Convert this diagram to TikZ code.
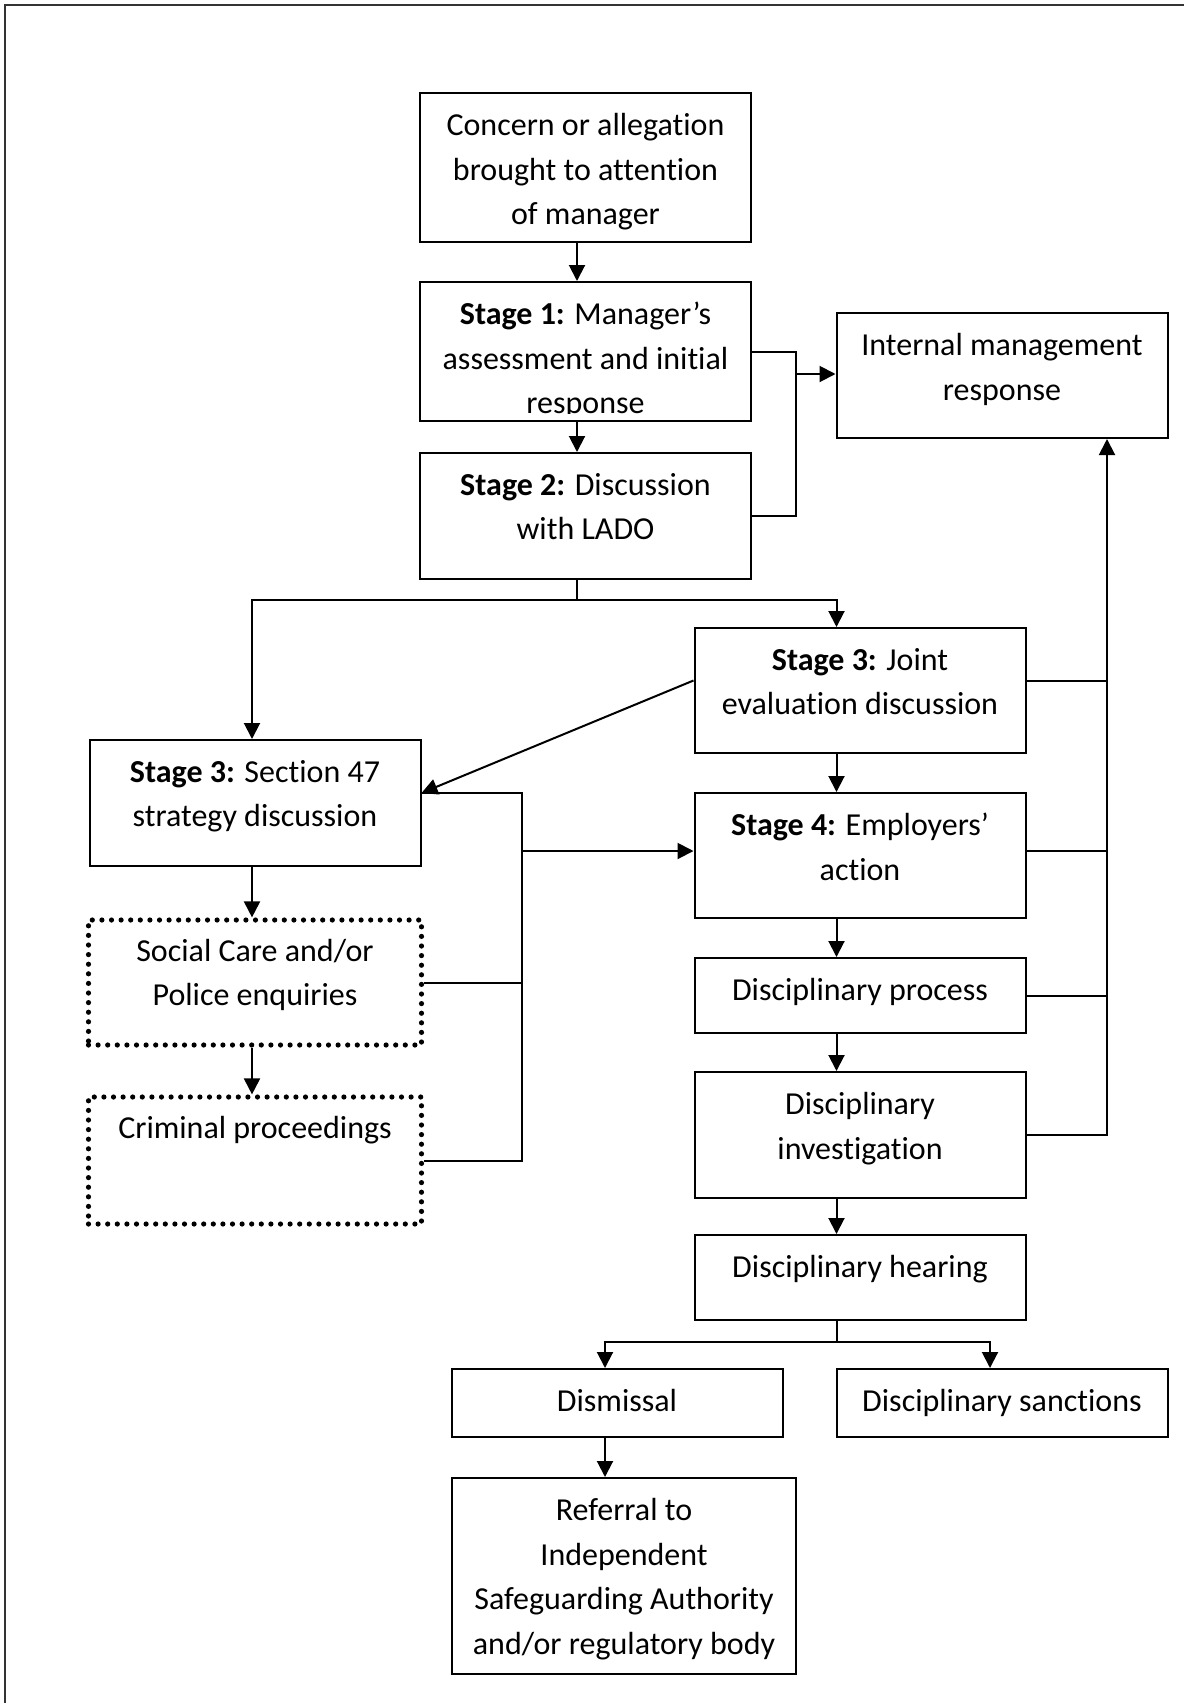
\documentclass[tikz,border=0pt]{standalone}
\usepackage{fontspec}
\setmainfont[Ligatures=NoCommon]{Carlito}
\usetikzlibrary{arrows.meta}
\tikzset{
    box/.style = {draw, line width=1pt, minimum width=165.5pt, inner sep=0pt},
    dotbox/.style = {box, minimum width=166.5pt, line width=2.6pt, line cap=round, dash pattern=on 0pt off 4.8pt},
    txt/.style = {anchor=north, align=center, inner sep=0pt, font=\fontsize{16}{22.25}\selectfont},
    link/.style = {line width=1pt},
    arr/.style = {link, -{Triangle[length=8pt,width=8pt]}}
}
\begin{document}
\begin{tikzpicture}[x=0.5pt, y=-0.5pt]
        \useasboundingbox (0,0) rectangle (1184,1703);
        \draw[line width=1.3pt, black!80] (5,1703) -- (5,5) -- (1184,5);

        \node[box, minimum height=74.5pt] (concern) at (585.5,167.5) {};
        \node[box, minimum height=69.5pt] (stage1) at (585.5,351.5) {};
        \node[box, minimum height=63pt] (stage2) at (585.5,516) {};
        \node[box, minimum height=62.5pt] (internal) at (1002,375.5) {};
        \node[box, minimum height=62.5pt] (joint) at (860,690.5) {};
        \node[box, minimum height=63pt] (sec47) at (255,803) {};
        \node[box, minimum height=62.5pt] (stage4) at (860,855.5) {};
        \node[dotbox, minimum height=62.5pt] (social) at (255,982.5) {};
        \node[dotbox, minimum height=63.5pt] (criminal) at (255,1160.5) {};
        \node[box, minimum height=37.5pt] (process) at (860,995.5) {};
        \node[box, minimum height=63pt] (investig) at (860,1135) {};
        \node[box, minimum height=42.5pt] (hearing) at (860,1277.5) {};
        \node[box, minimum height=34pt] (dismissal) at (617,1403) {};
        \node[box, minimum height=34pt] (sanctions) at (1002,1403) {};
        \node[box, minimum height=98pt, minimum width=172pt] (referral) at (624,1576) {};

        \node[txt] (concern-t) at ([yshift=-10.5pt]concern.north) {Concern or allegation\\brought to attention\\of manager};
        \begin{scope}
            \clip (stage1.north west) rectangle ([yshift=4.5pt]stage1.south east);
            \node[txt] (stage1-t) at ([yshift=-10.5pt]stage1.north) {\textbf{Stage 1:} Manager’s\\assessment and initial\\response};
        \end{scope}
        \node[txt] (stage2-t) at ([yshift=-10.5pt]stage2.north) {\textbf{Stage 2:} Discussion\\with LADO};
        \node[txt] (internal-t) at ([yshift=-10.5pt]internal.north) {Internal management\\response};
        \node[txt] (joint-t) at ([yshift=-10.5pt]joint.north) {\textbf{Stage 3:} Joint\\evaluation discussion};
        \node[txt] (sec47-t) at ([yshift=-10.5pt]sec47.north) {\textbf{Stage 3:} Section 47\\strategy discussion};
        \node[txt] (stage4-t) at ([yshift=-10.5pt]stage4.north) {\textbf{Stage 4:} Employers’\\action};
        \node[txt] (social-t) at ([yshift=-10.5pt]social.north) {Social Care and/or\\Police enquiries};
        \node[txt] (criminal-t) at ([yshift=-10.5pt]criminal.north) {Criminal proceedings};
        \node[txt] (process-t) at ([yshift=-10.5pt]process.north) {Disciplinary process};
        \node[txt] (investig-t) at ([yshift=-10.5pt]investig.north) {Disciplinary\\investigation};
        \node[txt] (hearing-t) at ([yshift=-10.5pt]hearing.north) {Disciplinary hearing};
        \node[txt] (dismissal-t) at ([yshift=-10.5pt]dismissal.north) {Dismissal};
        \node[txt] (sanctions-t) at ([yshift=-10.5pt]sanctions.north) {Disciplinary sanctions};
        \node[txt] (referral-t) at ([yshift=-10.5pt]referral.north) {Referral to\\Independent\\Safeguarding Authority\\and/or regulatory body};

        \coordinate (midcol) at (577,0);
        \coordinate (lcol) at (252,0);
        \coordinate (rcol) at (836.5,0);
        \coordinate (rbus) at (1107,0);
        \coordinate (fork1) at (796,374);
        \coordinate (fork2) at (577,600);
        \coordinate (fork3) at (522,851);
        \coordinate (fork4) at (836.5,1341.5);
        \coordinate (jointL) at ([yshift=5pt]joint.west);
        \coordinate (jointR) at ([yshift=5pt]joint.east);
        \coordinate (sec47R) at ([yshift=5pt]sec47.east);
        \coordinate (stage4R) at ([yshift=2.5pt]stage4.east);
        \coordinate (dismB) at ([xshift=-6pt]dismissal.south);

        \draw[arr] (concern.south -| midcol) -- (stage1.north -| midcol);
        \draw[arr] (stage1.south -| midcol) -- (stage2.north -| midcol);
        \draw[link] (stage1.east) -| (fork1) |- (stage2.east);
        \draw[arr] (fork1) -- (fork1 -| internal.west);

        \draw[link] (stage2.south -| fork2) -- (fork2);
        \draw[arr] (fork2) -| (sec47.north -| lcol);
        \draw[arr] (fork2) -| (joint.north -| rcol);
        \draw[arr] (jointL) -- (sec47R);

        \draw[arr] (sec47.south -| lcol) -- (social.north -| lcol);
        \draw[arr] (social.south -| lcol) -- (criminal.north -| lcol);
        \draw[link] (sec47R) -| (fork3) |- (criminal.east);
        \draw[link] (social.east) -- (social.east -| fork3);
        \draw[arr] (fork3) -- (fork3 -| stage4.west);

        \foreach \a/\b in {joint/stage4, stage4/process, process/investig, investig/hearing}
            {
                \draw[arr] (\a.south -| rcol) -- (\b.north -| rcol);
            }
        \draw[arr] (investig.east) -| (internal.south -| rbus);
        \foreach \p in {jointR, stage4R, process.east}
            {
                \draw[link] (\p) -- (\p -| rbus);
            }

        \draw[link] (hearing.south -| fork4) -- (fork4);
        \draw[arr] (fork4) -| ([xshift=-6pt]dismissal.north);
        \draw[arr] (fork4) -| ([xshift=-6pt]sanctions.north);
        \draw[arr] (dismB) -- (dismB |- referral.north);
    \end{tikzpicture}
\end{document}
